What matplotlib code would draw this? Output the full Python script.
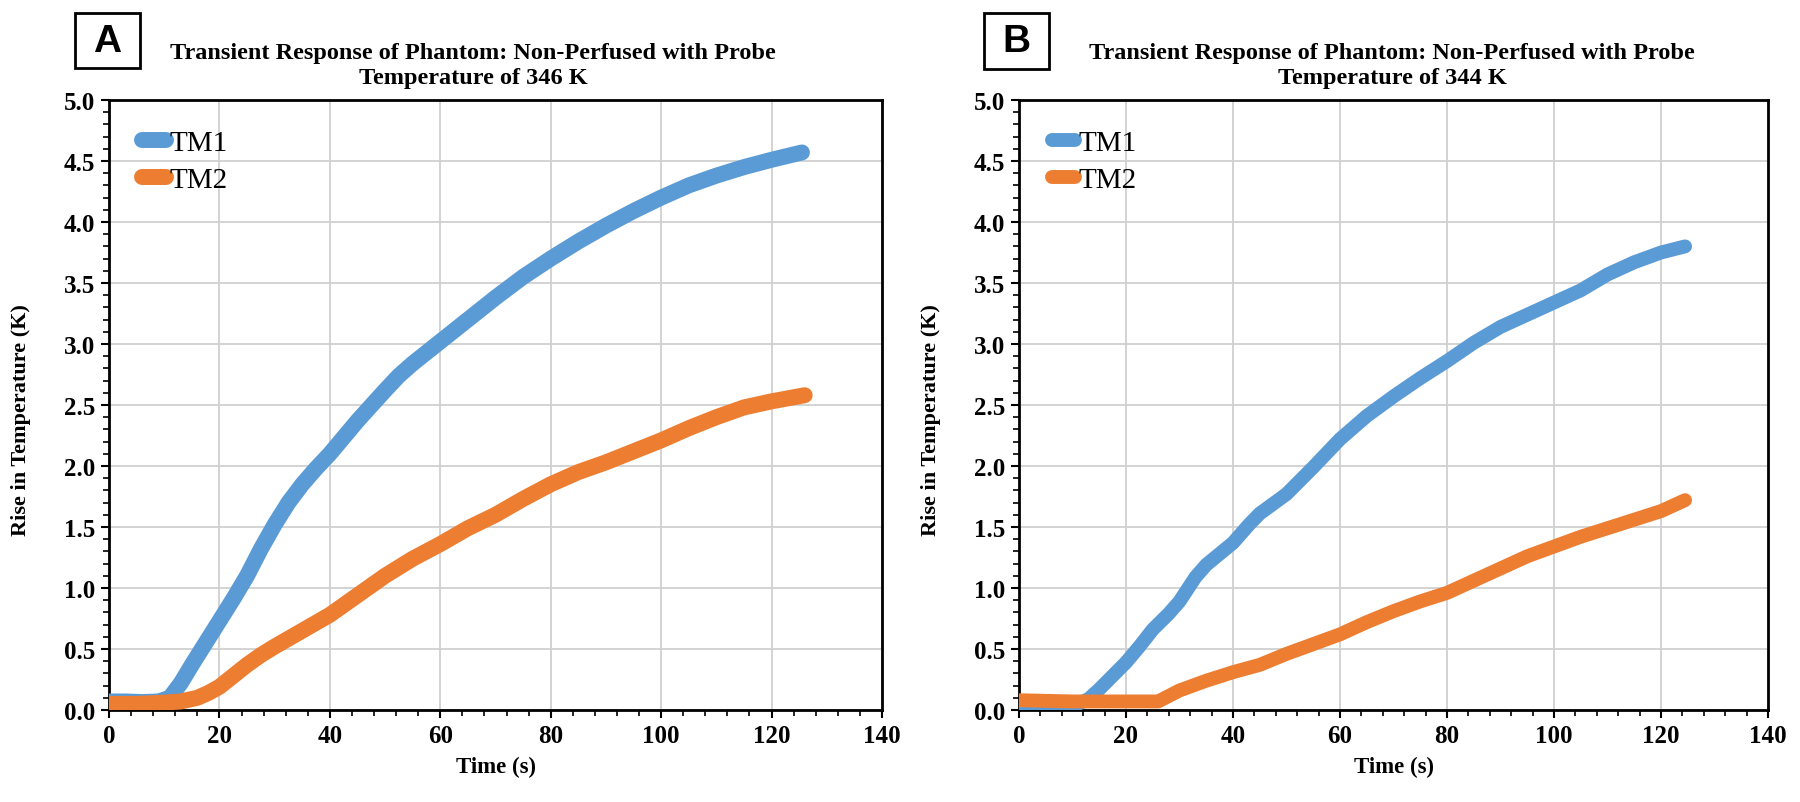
import matplotlib
matplotlib.use("Agg")
import matplotlib.pyplot as plt
from matplotlib.patches import Rectangle
from matplotlib.ticker import MultipleLocator, FormatStrFormatter

# ---------------- data ----------------
tA1 = [0, 3, 6, 9, 11, 13, 15, 17.5, 20, 22.5, 25, 27.5, 30, 32.5, 35, 37.5, 40, 45, 50, 52.5, 55, 57.5, 60, 65, 70, 75, 80, 85, 90, 95, 100, 105, 110, 115, 120, 125.5]
vA1 = [0.07, 0.07, 0.065, 0.07, 0.10, 0.22, 0.37, 0.55, 0.73, 0.91, 1.10, 1.32, 1.52, 1.70, 1.85, 1.98, 2.10, 2.37, 2.62, 2.74, 2.84, 2.93, 3.02, 3.20, 3.38, 3.55, 3.70, 3.84, 3.97, 4.09, 4.20, 4.30, 4.38, 4.45, 4.51, 4.57]
tA2 = [0, 5, 10, 13, 16, 18, 20, 22.5, 25, 27.5, 30, 35, 40, 45, 50, 55, 60, 65, 70, 75, 80, 85, 90, 95, 100, 105, 110, 115, 120, 126]
vA2 = [0.05, 0.05, 0.06, 0.07, 0.10, 0.14, 0.19, 0.28, 0.37, 0.45, 0.52, 0.65, 0.78, 0.94, 1.10, 1.24, 1.36, 1.49, 1.60, 1.73, 1.85, 1.95, 2.03, 2.12, 2.21, 2.31, 2.40, 2.48, 2.53, 2.58]
tB1 = [0, 5, 10, 13, 15, 20, 22.5, 25, 28, 30, 33, 35, 40, 43, 45, 50, 55, 60, 65, 70, 75, 80, 85, 90, 95, 100, 105, 110, 115, 120, 124.5]
vB1 = [0.04, 0.02, 0.03, 0.09, 0.17, 0.39, 0.52, 0.66, 0.79, 0.89, 1.09, 1.19, 1.37, 1.52, 1.61, 1.77, 1.99, 2.22, 2.41, 2.57, 2.72, 2.86, 3.01, 3.14, 3.24, 3.34, 3.44, 3.57, 3.67, 3.75, 3.80]
tB2 = [0, 10, 20, 26, 30, 35, 40, 45, 50, 55, 60, 65, 70, 75, 80, 85, 90, 95, 100, 105, 110, 115, 120, 124.5]
vB2 = [0.08, 0.07, 0.07, 0.07, 0.16, 0.24, 0.31, 0.37, 0.46, 0.54, 0.62, 0.72, 0.81, 0.89, 0.96, 1.06, 1.16, 1.26, 1.34, 1.42, 1.49, 1.56, 1.63, 1.72]

series_labels = ["TM1", "TM2"]
titles = ["Transient Response of Phantom: Non-Perfused with Probe\nTemperature of 346 K",
          "Transient Response of Phantom: Non-Perfused with Probe\nTemperature of 344 K"]
panel_letters = ["A", "B"]
xlabel = "Time (s)"
ylabel = "Rise in Temperature (K)"

BLUE = "#5B9BD5"
ORANGE = "#ED7D31"
serif = ["Liberation Serif", "DejaVu Serif"]

plt.rcParams["font.family"] = serif
plt.rcParams["font.weight"] = "bold"

W, H = 1800, 803
fig = plt.figure(figsize=(W / 100, H / 100), dpi=100)

def fx(px):
    return px / W

def fy(py):
    return 1 - py / H

axes_px = [(109, 882), (1019, 1768)]
top_px, bot_px = 101, 711
title_x = [473, 1392]
data = [((tA1, vA1), (tA2, vA2)), ((tB1, vB1), (tB2, vB2))]
box_px = [(75, 14, 140, 69), (984, 14, 1049, 70)]
lws = [11.5, 10]

for i in range(2):
    l, r = axes_px[i]
    ax = fig.add_axes([fx(l), fy(bot_px), fx(r - l), (bot_px - top_px) / H])
    (t1, v1), (t2, v2) = data[i]
    ax.plot(t1, v1, color=BLUE, lw=lws[i], solid_capstyle="round", solid_joinstyle="round",
            label=series_labels[0], zorder=3)
    ax.plot(t2, v2, color=ORANGE, lw=lws[i], solid_capstyle="round", solid_joinstyle="round",
            label=series_labels[1], zorder=3)
    ax.set_xlim(0, 140)
    ax.set_ylim(0, 5)
    ax.xaxis.set_major_locator(MultipleLocator(20))
    ax.xaxis.set_minor_locator(MultipleLocator(4))
    ax.yaxis.set_major_locator(MultipleLocator(0.5))
    ax.yaxis.set_minor_locator(MultipleLocator(0.1))
    ax.yaxis.set_major_formatter(FormatStrFormatter("%.1f"))
    ax.grid(True, which="major", color="#d0d0d0", lw=1.3, zorder=0)
    ax.set_axisbelow(True)
    for s in ax.spines.values():
        s.set_color("black")
        s.set_linewidth(2.0)
    ax.tick_params(which="major", direction="out", length=6, width=1.5, color="black",
                   pad=4, labelsize=18)
    ax.tick_params(which="minor", direction="out", length=4, width=1.2, color="black")
    ax.legend(loc="upper left", bbox_to_anchor=(0.028, 0.97), frameon=False,
              prop={"family": serif, "size": 21, "weight": "normal"},
              handlelength=0.8, handletextpad=0.12, labelspacing=0.35, borderaxespad=0)
    # titles and labels
    fig.text(fx(title_x[i]), fy(66), titles[i], ha="center", va="center",
             weight="bold", fontsize=17.5, linespacing=1.2)
    fig.text(fx((l + r) / 2), fy(767), xlabel, ha="center", va="center",
             weight="bold", fontsize=16.5)
    fig.text(fx(l - 88), fy(420), ylabel, ha="center", va="center", rotation=90,
             weight="bold", fontsize=16)
    # panel letter box
    x0, y0, x1, y1 = box_px[i]
    fig.patches.append(Rectangle((fx(x0), fy(y1)), fx(x1 - x0), (y1 - y0) / H,
                                 transform=fig.transFigure, fill=False, edgecolor="black", lw=2))
    fig.text(fx((x0 + x1) / 2), fy((y0 + y1) / 2), panel_letters[i], ha="center", va="center",
             family=["Liberation Sans", "DejaVu Sans"], weight="bold", fontsize=28)

fig.savefig("out.png", dpi=100)
